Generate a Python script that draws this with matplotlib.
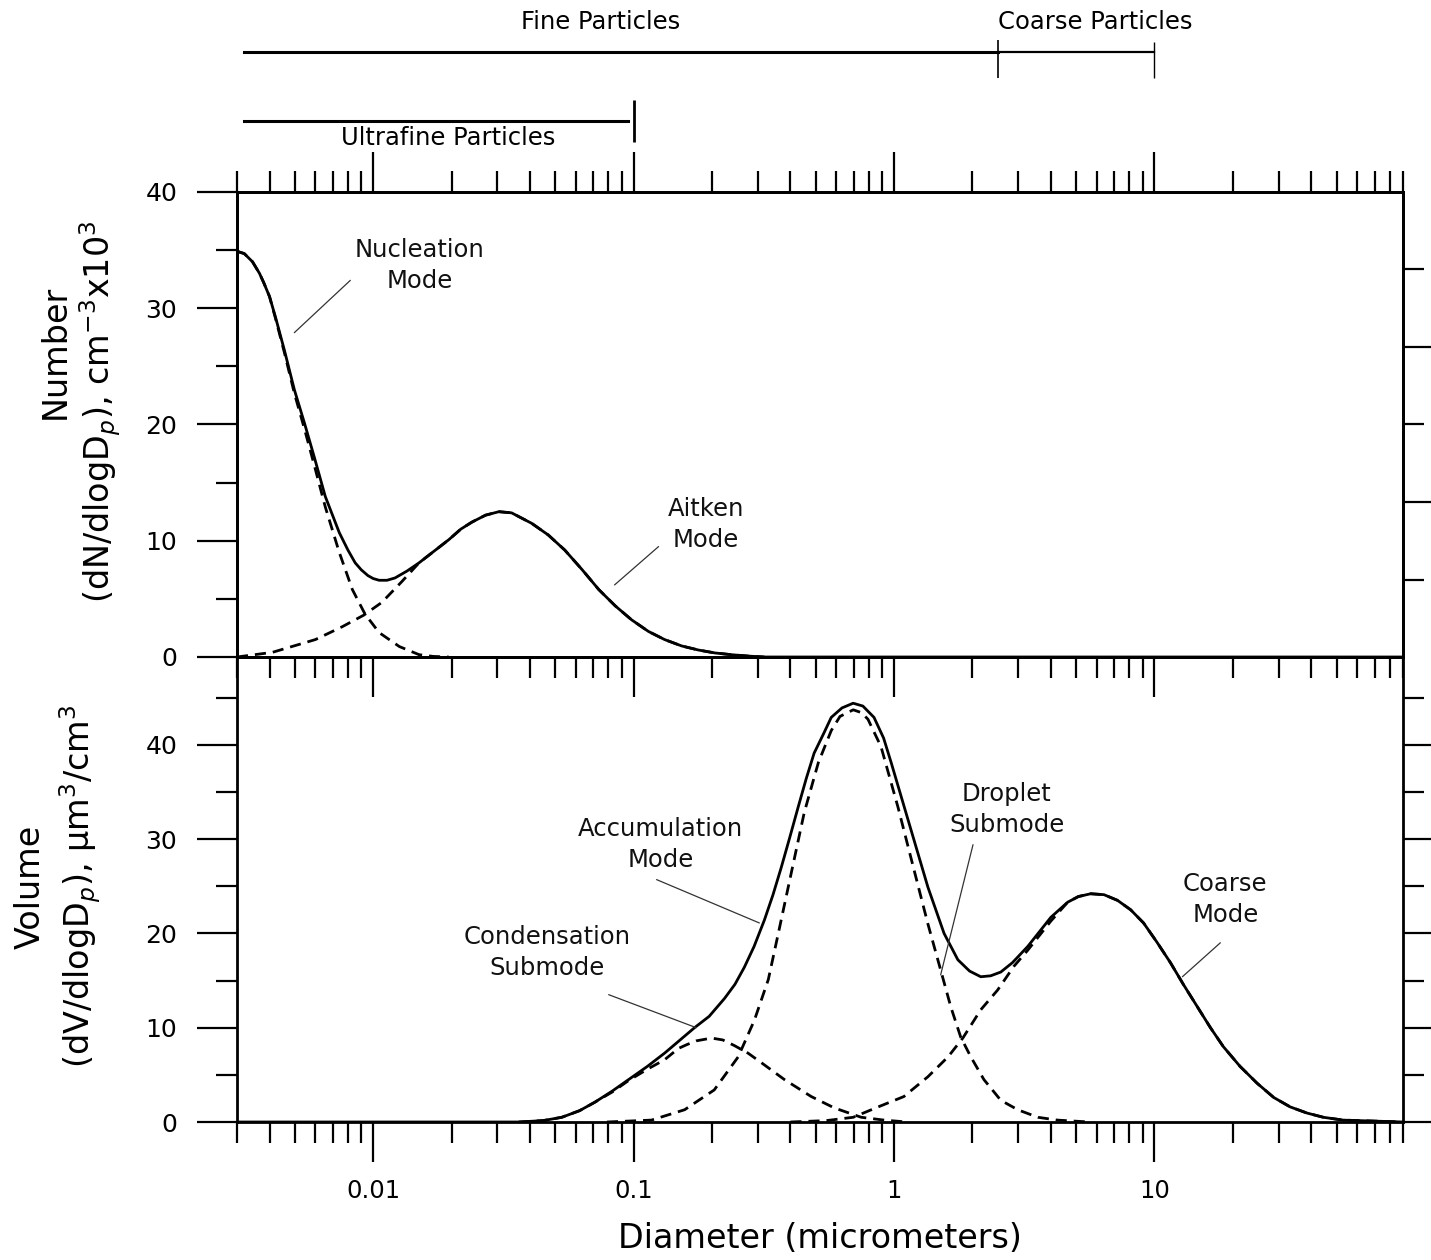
import numpy as np
import matplotlib
matplotlib.use("Agg")
import matplotlib.pyplot as plt
from matplotlib.ticker import LogLocator, MultipleLocator, FixedLocator, NullFormatter, FuncFormatter

# ---- number distribution (top panel), diameters in micrometers ----
num_d = [0.0030, 0.0032, 0.00344, 0.00366, 0.0038, 0.0040, 0.00422, 0.00456, 0.00498,
         0.00545, 0.00594, 0.00655, 0.00741, 0.0080, 0.00853, 0.0090, 0.00955, 0.0100,
         0.01054, 0.0113, 0.01213, 0.0135, 0.0150, 0.01954, 0.0217, 0.02393, 0.027,
         0.0304, 0.034, 0.0406, 0.047, 0.0544, 0.0635, 0.0735, 0.085, 0.0982, 0.114,
         0.1315, 0.153, 0.1774, 0.205, 0.237, 0.275, 0.318, 90.0]
num_total = [34.9, 34.7, 34.0, 33.0, 32.2, 31.0, 29.2, 26.4, 23.0,
             20.1, 17.2, 13.8, 10.7, 9.2, 8.1, 7.5, 7.0, 6.75,
             6.6, 6.6, 6.8, 7.4, 8.1, 10.1, 11.0, 11.6, 12.2,
             12.5, 12.4, 11.5, 10.5, 9.2, 7.5, 5.8, 4.4, 3.2, 2.2,
             1.5, 0.95, 0.6, 0.35, 0.2, 0.08, 0.0, 0.0]

nuc_d = [0.0030, 0.0032, 0.00344, 0.00366, 0.0038, 0.0040, 0.00422, 0.00456, 0.00498,
         0.00545, 0.00594, 0.00655, 0.00741, 0.00832, 0.0093, 0.01054, 0.0126, 0.0150,
         0.0170, 0.0195]
nuc_n = [34.9, 34.7, 34.0, 33.0, 32.2, 31.0, 29.1, 26.2, 22.7,
         19.6, 16.5, 12.9, 9.0, 5.8, 3.7, 2.1, 0.9, 0.2,
         0.05, 0.0]

aitken_d = [0.0030, 0.0041, 0.0060, 0.0076, 0.0092, 0.0108, 0.0129, 0.0150, 0.01954,
            0.0217, 0.02393, 0.027, 0.0304, 0.034, 0.0406, 0.047, 0.0544, 0.0635,
            0.0735, 0.085, 0.0982, 0.114, 0.1315, 0.153, 0.1774, 0.205, 0.237, 0.275, 0.318]
aitken_n = [0.0, 0.4, 1.5, 2.6, 3.6, 4.7, 6.5, 8.1, 10.1,
            11.0, 11.6, 12.2, 12.5, 12.4, 11.5, 10.5, 9.2, 7.5,
            5.8, 4.4, 3.2, 2.2, 1.5, 0.95, 0.6, 0.35, 0.2, 0.08, 0.0]

# ---- volume distribution (bottom panel) ----
vol_d = [0.0030, 0.0362, 0.045, 0.0530, 0.062, 0.0710, 0.083, 0.0957, 0.113, 0.1315,
         0.1714, 0.195, 0.2234, 0.245, 0.2661, 0.29, 0.3177, 0.343, 0.3690, 0.398,
         0.4285, 0.46, 0.4932, 0.537, 0.5741, 0.631, 0.6966, 0.759, 0.8375, 0.912,
         0.975, 1.161, 1.349, 1.556, 1.758, 1.95, 2.153, 2.35, 2.570, 2.85, 3.258,
         4.000, 4.64, 5.1, 5.69, 6.4, 7.21, 8.1, 9.08, 10.2, 11.51, 12.9, 14.62,
         16.4, 18.37, 21.3, 24.8, 28.7, 33.2, 38.5, 44.5, 53.0, 90.0]
vol_total = [0.0, 0.0, 0.15, 0.5, 1.2, 2.1, 3.3, 4.5, 5.9, 7.3,
             10.0, 11.2, 13.1, 14.6, 16.4, 18.6, 21.4, 24.1, 27.0, 30.2,
             33.4, 36.4, 39.1, 41.2, 42.9, 43.9, 44.4, 44.1, 42.9, 40.7,
             38.1, 31.0, 24.9, 20.0, 17.2, 16.0, 15.4, 15.5, 15.9, 16.9, 18.6,
             21.7, 23.3, 23.9, 24.2, 24.1, 23.5, 22.5, 21.1, 19.1, 16.9, 14.6, 12.2,
             10.0, 8.0, 5.9, 4.1, 2.6, 1.6, 0.95, 0.5, 0.2, 0.0]

cond_d = [0.0362, 0.045, 0.0530, 0.062, 0.0710, 0.083, 0.0957, 0.113, 0.1315, 0.1486,
          0.16, 0.1738, 0.1991, 0.22, 0.2438, 0.275, 0.3090, 0.3793, 0.4808, 0.5888,
          0.7482, 0.9162, 1.12]
cond_v = [0.0, 0.15, 0.5, 1.2, 2.1, 3.2, 4.4, 5.6, 6.6, 7.8,
          8.2, 8.6, 8.9, 8.7, 8.1, 7.3, 6.3, 4.5, 2.7, 1.5,
          0.5, 0.2, 0.0]

drop_d = [0.079, 0.117, 0.157, 0.204, 0.252, 0.291, 0.329, 0.362, 0.403, 0.452,
          0.512, 0.574, 0.62, 0.697, 0.75, 0.794, 0.891, 1.035, 1.194, 1.349, 1.514,
          1.652, 1.803, 1.972, 2.213, 2.570, 2.985, 3.565, 4.246, 5.62]
drop_v = [0.0, 0.2, 1.3, 3.4, 6.9, 10.8, 15.1, 20.4, 26.4, 32.8,
          38.1, 41.5, 43.0, 43.7, 43.4, 42.7, 39.8, 33.4, 26.7, 21.0, 16.0,
          12.2, 9.0, 6.9, 4.5, 2.3, 1.3, 0.5, 0.2, 0.0]

coarse_d = [0.40, 0.55, 0.697, 0.869, 1.091, 1.349, 1.611, 1.837, 2.153, 2.500,
            2.884, 3.258, 4.000, 4.64, 5.1, 5.69, 6.4, 7.21, 8.1, 9.08, 10.2,
            11.51, 12.9, 14.62, 16.4, 18.37, 21.3, 24.8, 28.7, 33.2, 38.5, 44.5,
            53.0, 90.0]
coarse_v = [0.0, 0.15, 0.5, 1.6, 2.7, 4.8, 6.9, 8.9, 11.9, 14.0,
            16.5, 18.2, 21.3, 23.3, 23.9, 24.2, 24.1, 23.5, 22.5, 21.1, 19.1,
            16.9, 14.6, 12.2, 10.0, 8.0, 5.9, 4.1, 2.6, 1.6, 0.95, 0.5,
            0.2, 0.0]

# size ranges shown above the plot
fine_range = [0.0032, 2.5]
coarse_range = [2.5, 10.0]
ultrafine_range = [0.0032, 0.095]

# labels: text, text position, leader start, leader end
top_notes = [
    ("Nucleation\nMode", (0.0151, 33.7), (0.00817, 32.4), (0.00498, 27.9)),
    ("Aitken\nMode", (0.19, 11.4), (0.1247, 9.5), (0.0845, 6.2)),
]
bottom_notes = [
    ("Accumulation\nMode", (0.127, 29.4), (0.1225, 25.7), (0.304, 21.1)),
    ("Condensation\nSubmode", (0.0464, 18.0), (0.0802, 13.5), (0.174, 10.0)),
    ("Droplet\nSubmode", (2.71, 33.1), (2.01, 29.4), (1.51, 15.6)),
    ("Coarse\nMode", (18.7, 23.6), (17.9, 19.0), (12.8, 15.4)),
]

plt.rcParams["font.family"] = ["DejaVu Sans"]

W, H = 1431, 1260
fig = plt.figure(figsize=(W / 100, H / 100), dpi=100)
left, width = 237 / W, 1166 / W
ax1 = fig.add_axes([left, 603 / H, width, 465 / H])
ax2 = fig.add_axes([left, 138 / H, width, 465 / H])
axt = fig.add_axes([left, 1070 / H, width, 190 / H])
ax2.patch.set_visible(False)

dash = (4, 2.5)
ax1.plot(num_d, num_total, color="black", lw=2)
ax1.plot(nuc_d, nuc_n, color="black", lw=2, ls="--", dashes=dash)
ax1.plot(aitken_d, aitken_n, color="black", lw=2, ls="--", dashes=dash)

ax2.plot(vol_d, vol_total, color="black", lw=2)
ax2.plot(cond_d, cond_v, color="black", lw=2, ls="--", dashes=dash)
ax2.plot(drop_d, drop_v, color="black", lw=2, ls="--", dashes=dash)
ax2.plot(coarse_d, coarse_v, color="black", lw=2, ls="--", dashes=dash)

for ax in (ax1, ax2, axt):
    ax.set_xscale("log")
    ax.set_xlim(0.003, 90)

for ax in (ax1, ax2):
    ax.xaxis.set_major_locator(LogLocator(base=10, numticks=20))
    ax.xaxis.set_minor_locator(LogLocator(base=10, subs=np.arange(2, 10), numticks=20))
    ax.xaxis.set_minor_formatter(NullFormatter())
    ax.xaxis.set_major_formatter(FuncFormatter(lambda v, p: f"{v:g}"))
    ax.yaxis.set_major_locator(MultipleLocator(10))
    ax.yaxis.set_minor_locator(MultipleLocator(5))
    for s in ax.spines.values():
        s.set_linewidth(2)
    ax.tick_params(axis="both", which="both", direction="out", width=1.6, colors="black")
    ax.tick_params(axis="both", which="major", length=29)
    ax.tick_params(axis="both", which="minor", length=15)
    ax.tick_params(axis="y", labelsize=18, pad=14)

ax1.set_ylim(0, 40)
ax1.tick_params(axis="x", which="both", top=True, bottom=True, labelbottom=False)
ax1.tick_params(axis="y", which="both", left=True, right=False)

ax2.set_ylim(0, 49.3)
ax2.tick_params(axis="x", which="both", top=False, bottom=True)
ax2.tick_params(axis="x", which="major", labelsize=17.5, pad=12)
ax2.tick_params(axis="y", which="both", left=True, right=True, labelright=False)

# right-hand scale of the upper panel
tw = ax1.twinx()
tw.set_ylim(0, 6)
tw.yaxis.set_major_locator(FixedLocator([2, 4]))
tw.yaxis.set_minor_locator(FixedLocator([1, 3, 5]))
tw.tick_params(axis="y", which="both", direction="out", width=1.6, labelright=False)
tw.tick_params(axis="y", which="major", length=29)
tw.tick_params(axis="y", which="minor", length=15)
for s in tw.spines.values():
    s.set_linewidth(2)

for ax, notes in ((ax1, top_notes), (ax2, bottom_notes)):
    for text, txy, tail, tip in notes:
        ax.text(txy[0], txy[1], text, ha="center", va="center", fontsize=17.5,
                linespacing=1.35, color="#111111")
        ax.annotate("", xy=tip, xytext=tail,
                    arrowprops=dict(arrowstyle="-", lw=0.9, color="#333333",
                                    shrinkA=0, shrinkB=0))

ax2.set_xlabel("Diameter (micrometers)", fontsize=24, labelpad=14)

fig.text(55 / W, 1 - 352 / H, "Number", rotation=90, ha="center", va="center", fontsize=24)
fig.text(100 / W, 1 - 412 / H, "(dN/dlogD$_p$), cm$^{-3}$x10$^3$", rotation=90,
         ha="center", va="center", fontsize=24)
fig.text(30 / W, 1 - 887 / H, "Volume", rotation=90, ha="center", va="center", fontsize=24)
fig.text(80 / W, 1 - 886 / H, "(dV/dlogD$_p$), \u03bcm$^3$/cm$^3$", rotation=90,
         ha="center", va="center", fontsize=24)

# size class brackets on top
axt.set_ylim(190, 0)
axt.axis("off")
axt.plot(fine_range, [52, 52], color="black", lw=2.2)
axt.plot(coarse_range, [52, 52], color="black", lw=1.6)
axt.vlines(coarse_range[0], 40, 78, color="black", lw=1.2)
axt.vlines(coarse_range[1], 42, 78, color="black", lw=1.0)
axt.plot(ultrafine_range, [121, 121], color="black", lw=2.2)
axt.vlines(0.1, 100, 142, color="black", lw=2)
axt.text(0.075, 22, "Fine Particles", ha="center", va="center", fontsize=17.5)
axt.text(5.9, 22, "Coarse Particles", ha="center", va="center", fontsize=17.5)
axt.text(0.0194, 138, "Ultrafine Particles", ha="center", va="center", fontsize=17.5)

fig.savefig("out.png", dpi=100)
